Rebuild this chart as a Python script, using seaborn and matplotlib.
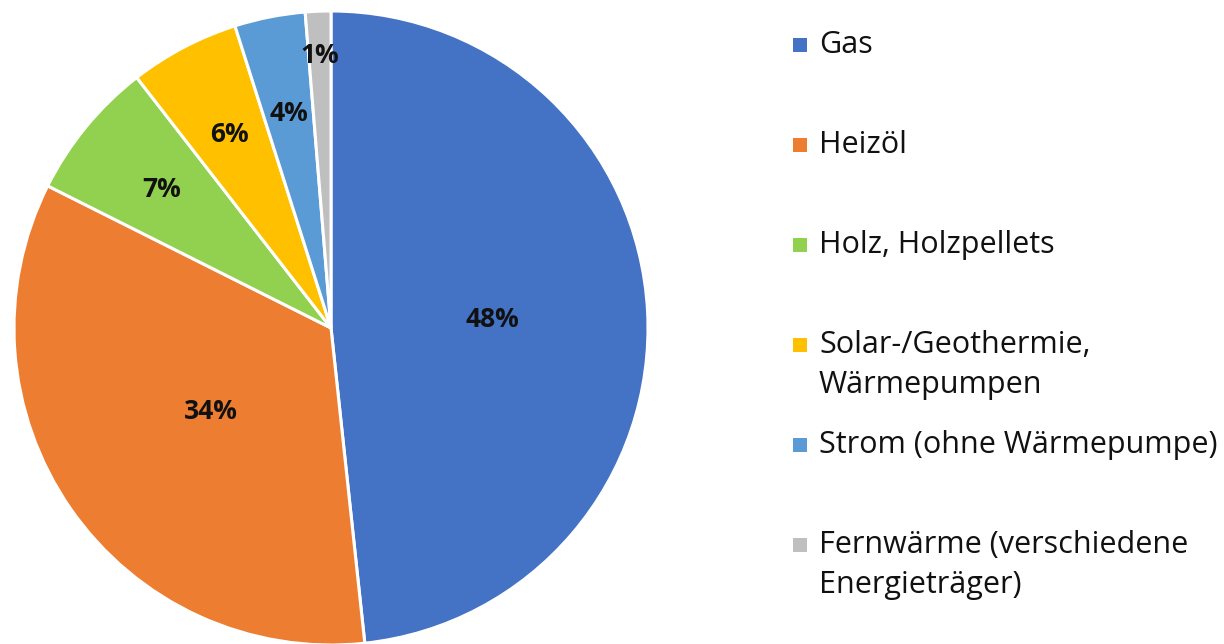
"""Pie chart of heating energy sources (Heizenergieträger) with a side legend."""

import numpy as np
import matplotlib
matplotlib.use("Agg")
import matplotlib.pyplot as plt
from matplotlib.patches import Rectangle
import seaborn as sns

sns.set_theme(style="white")
plt.rcParams['font.family'] = ['Open Sans', 'DejaVu Sans']

# Data (labels show rounded percentages)
categories = [
    "Gas",
    "Heizöl",
    "Holz, Holzpellets",
    "Solar-/Geothermie,\nWärmepumpen",
    "Strom (ohne Wärmepumpe)",
    "Fernwärme (verschiedene\nEnergieträger)",
]
shares = [48.3, 34.1, 7.1, 5.6, 3.6, 1.3]
colors = ["#4472C4", "#ED7D31", "#92D050", "#FFC000", "#5B9BD5", "#BFBFBF"]

# radial position of each percentage label (fraction of radius)
label_radius = [0.51, 0.46, 0.69, 0.69, 0.69, 0.86]

W, H = 1224, 644
fig = plt.figure(figsize=(W / 100, H / 100), dpi=100)
ax = fig.add_axes([14 / W, -1 / H, 634 / W, 634 / H])

wedges, _ = ax.pie(
    shares,
    colors=colors,
    startangle=90,
    counterclock=False,
    radius=1.0,
    wedgeprops=dict(edgecolor="white", linewidth=2.2),
)
ax.set_xlim(-1, 1)
ax.set_ylim(-1, 1)
ax.set_aspect("equal")
ax.axis("off")

# Percentage labels at the wedge mid-angles
for wedge, val, r in zip(wedges, shares, label_radius):
    mid = np.deg2rad((wedge.theta1 + wedge.theta2) / 2)
    ax.text(r * np.cos(mid), r * np.sin(mid), f"{round(val):d}%",
            ha="center", va="center", fontsize=19, fontweight="bold",
            color="#111111")

# Legend drawn by hand: marker aligned with the first line of each entry
legend_x = 793
text_x = 819
first_y = 45
pitch = 100
line_gap = 40
for i, (label, color) in enumerate(zip(categories, colors)):
    y = first_y + i * pitch
    fig.patches.append(Rectangle((legend_x / W, 1 - (y + 7) / H), 14 / W, 14 / H,
                                 transform=fig.transFigure, facecolor=color,
                                 edgecolor="none"))
    for j, line in enumerate(label.split("\n")):
        fig.text(text_x / W, 1 - (y + 8 + j * line_gap) / H, line,
                 ha="left", va="baseline", fontsize=22, color="#111111")

fig.savefig("out.png", dpi=100)
